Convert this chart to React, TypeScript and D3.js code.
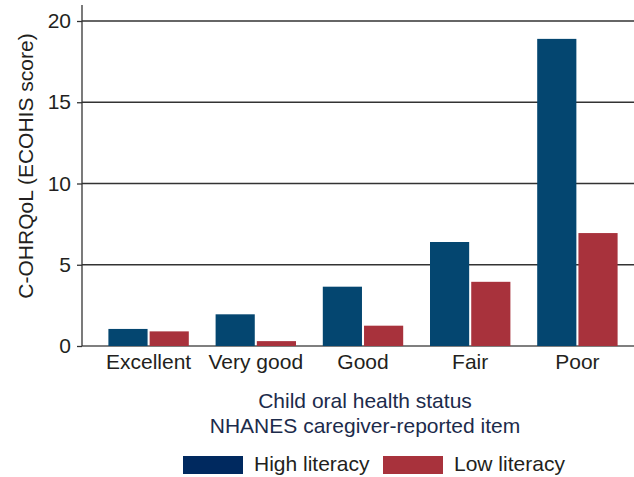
import React, { useEffect, useRef } from 'react';
import * as d3 from 'd3';

const categories = ['Excellent', 'Very good', 'Good', 'Fair', 'Poor'];
const seriesNames = ['High literacy', 'Low literacy'];
const highLiteracy = [1.05, 1.95, 3.65, 6.4, 18.9];
const lowLiteracy = [0.9, 0.3, 1.25, 3.95, 6.95];
const yTicks = [0, 5, 10, 15, 20];

const App = () => {
  const ref = useRef<SVGSVGElement>(null);

  const width = 634, height = 477;
  const axisX = 82, plotRight = 634;
  const plotTop = 21, plotBottom = 346;

  const BAR_COLORS = ['#044670', '#A8323C'];
  const LEGEND_COLORS = ['#00295F', '#A8323C'];
  const TEXT = '#231f20';
  const TITLE = '#1c2b4b';
  const FONT = '"Liberation Sans", Arial, Helvetica, sans-serif';
  const FS = 21;

  useEffect(() => {
    const svg = d3.select(ref.current);
    svg.selectAll('*').remove();

    const x = d3.scaleBand()
      .domain(categories)
      .range([95, 631])
      .paddingInner(0.25)
      .paddingOuter(0.125);

    const xSub = d3.scaleBand()
      .domain(seriesNames)
      .range([0, x.bandwidth()])
      .paddingInner(0.05);

    const y = d3.scaleLinear().domain([0, 20]).range([plotBottom, plotTop]);

    // gridlines
    svg.append('g')
      .selectAll('line')
      .data(yTicks)
      .join('line')
      .attr('x1', axisX)
      .attr('x2', plotRight)
      .attr('y1', d => y(d))
      .attr('y2', d => y(d))
      .attr('stroke', d => (d === 0 ? '#555' : '#333'))
      .attr('stroke-width', 1.3);

    // bars
    const rows = categories.map((c, i) => ({ c, vals: [highLiteracy[i], lowLiteracy[i]] }));
    svg.append('g')
      .selectAll('g')
      .data(rows)
      .join('g')
      .attr('transform', d => `translate(${x(d.c)},0)`)
      .selectAll('rect')
      .data(d => d.vals.map((v, j) => ({ v, j })))
      .join('rect')
      .attr('x', d => xSub(seriesNames[d.j])!)
      .attr('width', xSub.bandwidth())
      .attr('y', d => y(d.v))
      .attr('height', d => y(0) - y(d.v))
      .attr('fill', d => BAR_COLORS[d.j]);

    // y axis
    const yAxis = svg.append('g')
      .attr('transform', `translate(${axisX},0)`)
      .call(d3.axisLeft(y).tickValues(yTicks).tickSize(5).tickPadding(6).tickSizeOuter(0));
    yAxis.select('.domain').attr('d', `M0,5V${plotBottom}`).attr('stroke', '#333').attr('stroke-width', 1.3);
    yAxis.selectAll('.tick line').attr('stroke', '#333').attr('stroke-width', 1.3);
    yAxis.selectAll('.tick text')
      .attr('font-size', FS)
      .attr('font-family', FONT)
      .attr('fill', TEXT);

    // x labels
    svg.append('g')
      .selectAll('text')
      .data(categories)
      .join('text')
      .attr('x', d => x(d)! + x.bandwidth() / 2)
      .attr('y', 369)
      .attr('text-anchor', 'middle')
      .attr('font-size', FS)
      .attr('font-family', FONT)
      .attr('fill', TEXT)
      .text(d => d);

    // y title
    svg.append('text')
      .attr('transform', `translate(33,166) rotate(-90)`)
      .attr('text-anchor', 'middle')
      .attr('font-size', FS)
      .attr('font-family', FONT)
      .attr('fill', TEXT)
      .text('C-OHRQoL (ECOHIS score)');

    // x title
    const titleX = 365;
    svg.append('text')
      .attr('x', titleX)
      .attr('y', 408)
      .attr('text-anchor', 'middle')
      .attr('font-size', FS)
      .attr('font-family', FONT)
      .attr('fill', TITLE)
      .text('Child oral health status');
    svg.append('text')
      .attr('x', titleX)
      .attr('y', 433)
      .attr('text-anchor', 'middle')
      .attr('font-size', FS)
      .attr('font-family', FONT)
      .attr('fill', TITLE)
      .text('NHANES caregiver-reported item');

    // legend
    const legendX = [183, 383];
    const lg = svg.append('g')
      .selectAll('g')
      .data(seriesNames)
      .join('g')
      .attr('transform', (d, i) => `translate(${legendX[i]},456)`);
    lg.append('rect')
      .attr('width', 60)
      .attr('height', 18)
      .attr('fill', (d, i) => LEGEND_COLORS[i]);
    lg.append('text')
      .attr('x', 71)
      .attr('y', 15)
      .attr('font-size', FS)
      .attr('font-family', FONT)
      .attr('fill', TEXT)
      .text(d => d);
  }, []);

  return (
    <svg
      ref={ref}
      width={width}
      height={height}
      style={{ position: 'absolute', left: 0, top: 0, background: '#fff' }}
    />
  );
};

export default App;
